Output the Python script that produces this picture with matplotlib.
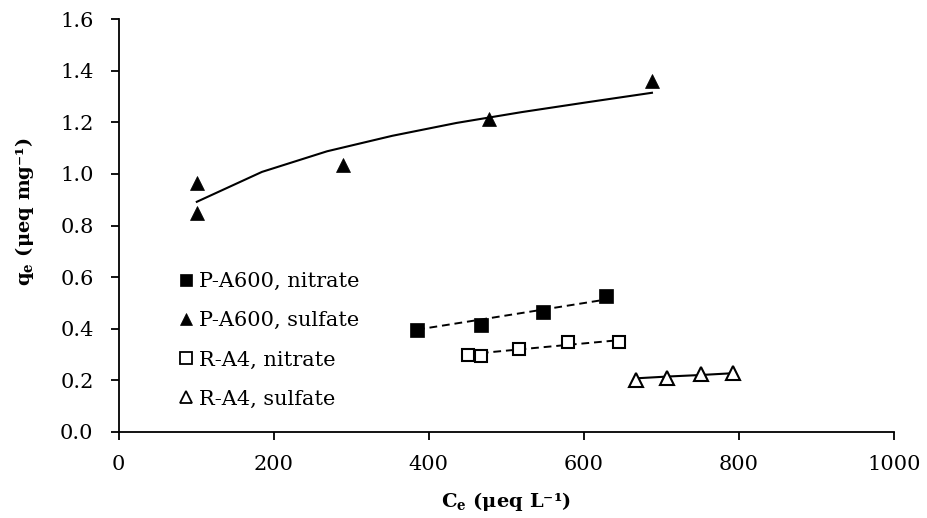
import matplotlib
matplotlib.use("Agg")
import matplotlib.pyplot as plt
from matplotlib.lines import Line2D

plt.rcParams['font.family'] = ['DejaVu Serif']
plt.rcParams['mathtext.fontset'] = 'custom'
plt.rcParams['mathtext.rm'] = 'DejaVu Serif:bold'
plt.rcParams['mathtext.bf'] = 'DejaVu Serif:bold'

# P-A600, nitrate
pa_no3_x = [385, 467, 548, 629]
pa_no3_y = [0.395, 0.414, 0.466, 0.528]
pa_no3_fit_y = [0.396, 0.435, 0.474, 0.513]

# P-A600, sulfate
pa_so4_x = [101, 101, 290, 478, 688]
pa_so4_y = [0.966, 0.847, 1.035, 1.212, 1.362]
pa_so4_fit_x = [101, 185, 269, 353, 436, 520, 604, 688]
pa_so4_fit_y = [0.892, 1.008, 1.088, 1.148, 1.198, 1.240, 1.278, 1.315]

# R-A4, nitrate
ra_no3_x = [451, 467, 516, 580, 645]
ra_no3_y = [0.298, 0.295, 0.322, 0.349, 0.349]
ra_no3_fit_y = [0.300, 0.305, 0.319, 0.337, 0.355]

# R-A4, sulfate
ra_so4_x = [667, 708, 751, 793]
ra_so4_y = [0.202, 0.207, 0.225, 0.226]
ra_so4_fit_y = [0.207, 0.214, 0.220, 0.227]

labels = ["P-A600, nitrate", "P-A600, sulfate", "R-A4, nitrate", "R-A4, sulfate"]
x_ticks = [0, 200, 400, 600, 800, 1000]
y_ticks = [0.0, 0.2, 0.4, 0.6, 0.8, 1.0, 1.2, 1.4, 1.6]

fig = plt.figure(figsize=(9.28, 5.18), dpi=100)
ax = fig.add_axes([0.1277, 0.1666, 0.8355, 0.7961])

dash = (0, (4, 2.5))
ax.plot(pa_so4_fit_x, pa_so4_fit_y, color='black', lw=1.5, zorder=2)
ax.plot(pa_no3_x, pa_no3_fit_y, color='black', lw=1.4, ls=dash, zorder=2)
ax.plot(ra_no3_x, ra_no3_fit_y, color='black', lw=1.4, ls=dash, zorder=2)
ax.plot(ra_so4_x, ra_so4_fit_y, color='black', lw=1.5, zorder=2)

ax.plot(pa_no3_x, pa_no3_y, ls='none', marker='s', ms=10, mfc='black', mec='black', mew=0.5, zorder=3)
ax.plot(pa_so4_x, pa_so4_y, ls='none', marker='^', ms=10, mfc='black', mec='black', mew=0.5, zorder=3)
ax.plot(ra_no3_x, ra_no3_y, ls='none', marker='s', ms=9, mfc='white', mec='black', mew=1.5, zorder=3)
ax.plot(ra_so4_x, ra_so4_y, ls='none', marker='^', ms=10, mfc='white', mec='black', mew=1.5, zorder=3)

handles = [
    Line2D([], [], ls='none', marker='s', ms=9, mfc='black', mec='black', mew=0.5),
    Line2D([], [], ls='none', marker='^', ms=9, mfc='black', mec='black', mew=0.5),
    Line2D([], [], ls='none', marker='s', ms=8, mfc='white', mec='black', mew=1.3),
    Line2D([], [], ls='none', marker='^', ms=9, mfc='white', mec='black', mew=1.3),
]
ax.legend(handles, labels, loc='upper left', bbox_to_anchor=(178 / 928, 1 - 272 / 518),
          bbox_transform=fig.transFigure, frameon=False, fontsize=15,
          handlelength=0.8, handletextpad=0.2, labelspacing=0.97, borderpad=0, borderaxespad=0)

ax.set_xlim(0, 1000)
ax.set_ylim(0, 1.6)
ax.set_xticks(x_ticks)
ax.set_xticklabels([str(v) for v in x_ticks])
ax.set_yticks(y_ticks)
ax.set_yticklabels([f"{v:.1f}" for v in y_ticks])
ax.tick_params(axis='both', direction='out', length=6, width=1.3, labelsize=15, colors='black')
ax.tick_params(axis='x', pad=11)
ax.tick_params(axis='y', pad=12)

for s in ['top', 'right']:
    ax.spines[s].set_visible(False)
for s in ['left', 'bottom']:
    ax.spines[s].set_linewidth(1.3)
    ax.spines[s].set_color('black')

ax.set_xlabel(r'C$_\mathregular{e}$ (μeq L⁻¹)', fontsize=14, fontweight='bold')
ax.set_ylabel(r'q$_\mathregular{e}$ (μeq mg⁻¹)', fontsize=14, fontweight='bold')
ax.xaxis.set_label_coords(0.5, -0.141)
ax.yaxis.set_label_coords(-0.106, 0.533)

fig.savefig("out.png", dpi=100)
